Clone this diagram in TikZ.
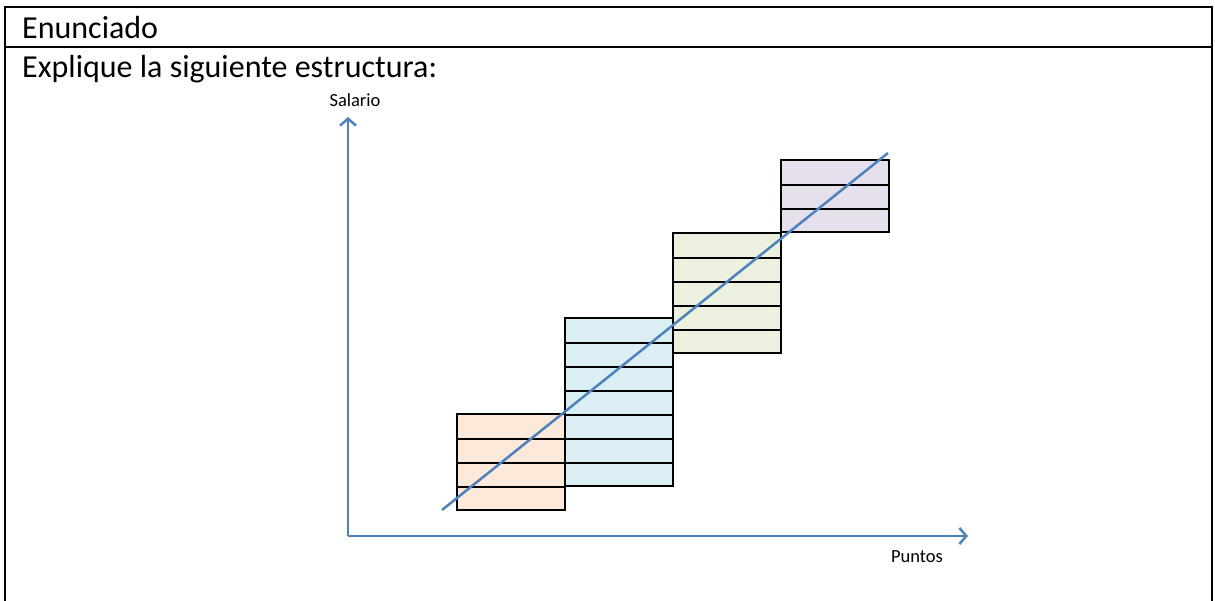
\documentclass[tikz,border=0pt]{standalone}
\usepackage{fontspec}
\setmainfont{Carlito}
\usetikzlibrary{arrows.meta, positioning}
\definecolor{axisblue}{HTML}{4F81BD}
\definecolor{bandorange}{HTML}{FCE9DA}
\definecolor{bandblue}{HTML}{DBEEF4}
\definecolor{bandgreen}{HTML}{EBF1DE}
\definecolor{bandpurple}{HTML}{E5E0EC}
\begin{document}
\begin{tikzpicture}[
        x=1pt, y=-1pt,
        frame/.style={draw=black, line width=1.5pt},
        bigtext/.style={anchor=base west, inner sep=0pt, font=\fontsize{32}{38}\selectfont},
        axlabel/.style={anchor=base, inner sep=0pt, font=\fontsize{18.5}{22}\selectfont},
        axis/.style={draw=axisblue, line width=2.5pt, -{Straight Barb[length=7pt, width=16pt, line width=2.5pt]}},
        band/.style={draw=black, line width=2pt, minimum width=108pt, inner sep=0pt,
            anchor=south west},
        trend/.style={draw=axisblue, line width=2.5pt}
    ]
    \useasboundingbox (0,0) rectangle (1215,601);
    % table frame
    \draw [frame] (5,610) -- (5,7) -- (1212,7) -- (1212,610);
    \draw [frame] (5,47) -- (1212,47);
    \node (title) [bigtext] at (22,39) {Enunciado};
    \node (task)  [bigtext] at (22,78) {Explique la siguiente estructura:};

    % axes
    \coordinate (origin) at (348,536);
    \coordinate (ytop)   at (348,117);
    \coordinate (xend)   at (968,536);
    \draw [axis] (origin) -- (ytop);
    \draw [axis] (origin) -- (xend);
    \node (salario) [axlabel] at (355,107) {Salario};
    \node (puntos)  [axlabel] at (917,562) {Puntos};

    % salary bands
    \node (b1) [band, fill=bandorange, minimum height=96pt]  at (456,511) {};
    \node (b2) [band, fill=bandblue,   minimum height=168pt] at (564,487) {};
    \node (b3) [band, fill=bandgreen,  minimum height=120pt] at (672,354) {};
    \node (b4) [band, fill=bandpurple, minimum height=72pt]  at (780,233) {};
    % row lines, thin or thick as in the original
    \foreach \b/\i/\w in {b1/1/1.4, b1/2/1.4, b1/3/2.2,
                          b2/1/1.4, b2/2/2.2, b2/3/1.4, b2/4/1.4, b2/5/2.2, b2/6/1.4,
                          b3/1/1.4, b3/2/2.2, b3/3/1.4, b3/4/2.2,
                          b4/1/2.2, b4/2/1.4}
        \draw [line width=\w pt] ([yshift=24*\i pt]\b.south west) -- ([yshift=24*\i pt]\b.south east);

    % trend line
    \coordinate (tstart) at (442,510);
    \coordinate (tend)   at (888,153);
    \draw [trend] (tstart) -- (tend);
\end{tikzpicture}
\end{document}
